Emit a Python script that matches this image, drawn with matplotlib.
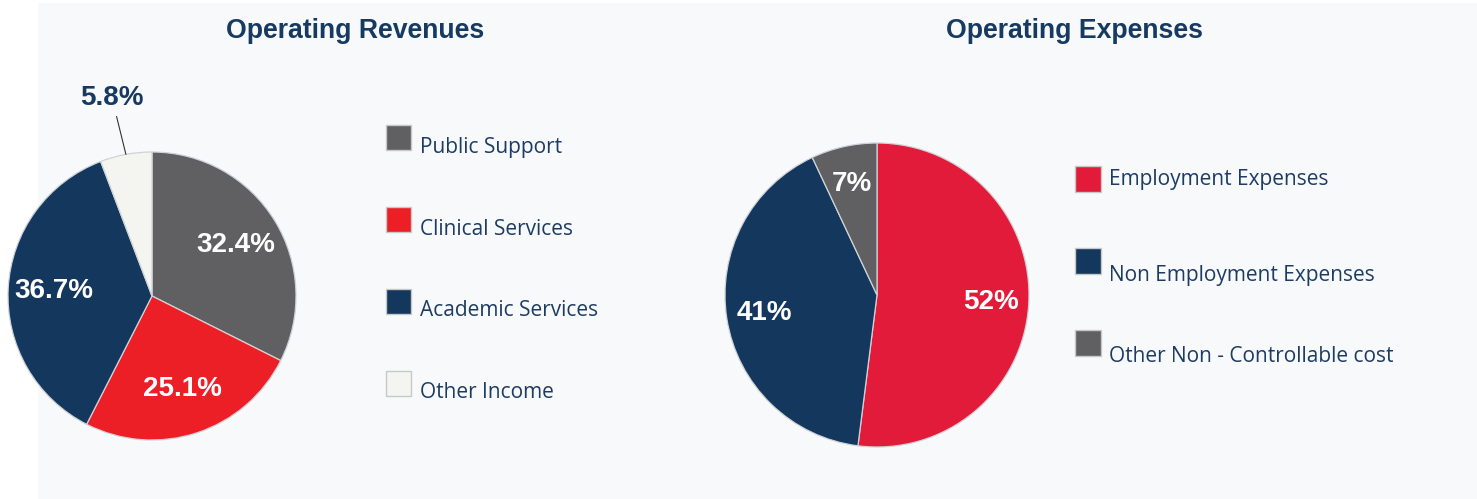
import matplotlib
matplotlib.use("Agg")
import matplotlib.pyplot as plt
from matplotlib.patches import Rectangle
import numpy as np

# ---- data ----
rev_labels = ["Public Support", "Clinical Services", "Academic Services", "Other Income"]
rev_values = [32.4, 25.1, 36.7, 5.8]
rev_colors = ["#606062", "#ec1f27", "#14375e", "#f4f5f1"]

exp_labels = ["Employment Expenses", "Non Employment Expenses", "Other Non - Controllable cost"]
exp_values = [52, 41, 7]
exp_colors = ["#e31b3a", "#14375e", "#606062"]

titles = ["Operating Revenues", "Operating Expenses"]

W, H = 1477, 499
fig = plt.figure(figsize=(W / 100, H / 100), dpi=100, facecolor="white")
ax = fig.add_axes([0, 0, 1, 1])
ax.set_xlim(0, W)
ax.set_ylim(0, H)
ax.set_aspect("equal")
ax.axis("off")

def Y(y):
    return H - y

# background panel
ax.add_patch(Rectangle((38, 0), W - 38, Y(3), facecolor="#f8f9fb", edgecolor="none", zorder=0))

navy = "#173a62"
label_font = dict(family="Liberation Sans", weight="bold", size=20)
wedge_kw = dict(edgecolor="#cfd3d8", linewidth=0.9)

# ---- revenues pie ----
c1, r1 = (152, Y(296)), 144
wedges1, _, autot1 = ax.pie(rev_values, colors=rev_colors, startangle=90, counterclock=False,
                            center=c1, radius=r1, wedgeprops=wedge_kw,
                            autopct=lambda p: f"{p:.1f}%", pctdistance=0.68,
                            textprops=dict(color="white", **label_font), frame=True)
# small slice label outside
small = autot1[3]
small.set_visible(False)
w = wedges1[3]
mid = np.deg2rad((w.theta1 + w.theta2) / 2)
edge = (c1[0] + r1 * np.cos(mid), c1[1] + r1 * np.sin(mid))
ax.annotate(f"{rev_values[3]:.1f}%", xy=edge, xytext=(112, Y(98)), ha="center", va="center",
            color=navy, arrowprops=dict(arrowstyle="-", color="#333333", lw=0.8,
                                        shrinkA=2, shrinkB=0), **label_font)

# ---- expenses pie ----
c2, r2 = (877, Y(295)), 152
wedges2, _, autot2 = ax.pie(exp_values, colors=exp_colors, startangle=90, counterclock=False,
                            center=c2, radius=r2, wedgeprops=wedge_kw,
                            autopct=lambda p: f"{p:.0f}%", pctdistance=0.75,
                            textprops=dict(color="white", **label_font), frame=True)

ax.set_xlim(0, W)
ax.set_ylim(0, H)
ax.axis("off")

# ---- titles ----
ax.text(355, Y(31), titles[0], ha="center", va="center", color=navy,
        family="Liberation Sans", weight="bold", size=19.2)
ax.text(1074, Y(31), titles[1], ha="center", va="center", color=navy,
        family="Liberation Sans", weight="bold", size=19.2)

# ---- legends ----
leg_font = dict(family="Open Sans", size=15, color="#1d3c64")
sq = 25
rev_sq_top = [125, 207, 289, 371]
rev_txt_y = [147, 229, 311, 393]
for lab, col, st, ty in zip(rev_labels, rev_colors, rev_sq_top, rev_txt_y):
    ax.add_patch(Rectangle((386, Y(st + sq)), sq, sq, facecolor=col, edgecolor="#c8c8c8", lw=1))
    ax.text(420, Y(ty), lab, ha="left", va="center", **leg_font)

exp_sq_top = [167, 249, 331]
exp_txt_y = [179, 275, 357]
for lab, col, st, ty in zip(exp_labels, exp_colors, exp_sq_top, exp_txt_y):
    ax.add_patch(Rectangle((1075, Y(st + sq)), sq + 1, sq + 1, facecolor=col, edgecolor="#c8c8c8", lw=1))
    ax.text(1109, Y(ty), lab, ha="left", va="center", **leg_font)

fig.savefig("out.png", dpi=100, facecolor="white")
